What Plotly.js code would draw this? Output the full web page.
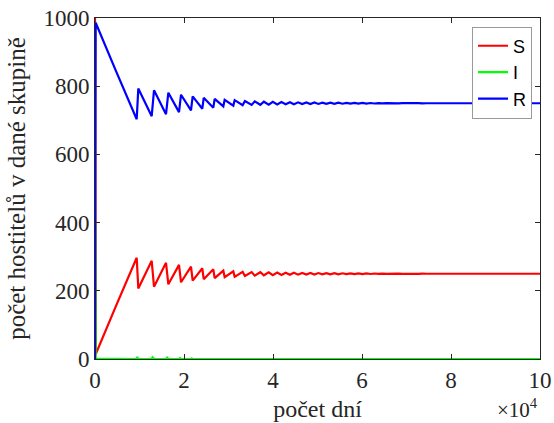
<!DOCTYPE html>
<html>
<head>
<meta charset="utf-8">
<script src="https://cdn.plot.ly/plotly-3.0.1.min.js"></script>
<style>html,body{margin:0;padding:0;background:#fff;}#chart{width:554px;height:423px;}</style>
</head>
<body>
<div id="chart"></div>
<script>
// time (days) for S and R
const t = [0,40,150,4700,9370,9730,12740,13260,15960,16480,18880,19330,21570,21950,24120,24430,26590,26890,28840,29140,31080,31390,
  33180,33700,35200,35900,37150,37950,39050,39950,40950,41900,42850,43800,44700,45650,46550,47500,48400,49300,50200,51100,52000,52900,
  53800,54700,55600,56500,57400,58300,59200,60100,61000,61900,62800,63700,64600,65500,66400,67300,68200,69100,70000,70900,71800,72700,
  73600,74500,100000];
const S = [1000,380,14,155,297,207,288,212,282,219,276,225,271,230,266,234,263,237,259,240,257,241,
  255.5,243.5,255,244.5,254.5,245.5,254,246,253.5,246.5,253,247,252.8,247.3,252.5,247.6,252.2,247.9,252,248.1,251.8,248.3,
  251.6,248.5,251.4,248.7,251.2,248.9,251,249.1,250.8,249.3,250.7,249.4,250.6,249.5,250.5,249.6,250.4,249.7,250.3,249.8,250.2,249.9,
  250.1,250,250];
const R = [0,220,986,845,703,793,712,788,718,781,724,775,729,770,734,766,737,763,741,760,743,759,
  744.5,756.5,745,755.5,745.5,754.5,746,754,746.5,753.5,747,753,747.2,752.7,747.5,752.4,747.8,752.1,748,751.9,748.2,751.7,
  748.4,751.5,748.6,751.3,748.8,751.1,749,750.9,749.2,750.7,749.3,750.6,749.4,750.5,749.5,750.4,749.6,750.3,749.7,750.2,
  749.8,750.1,749.9,750,750];
// infected
const tI = [0,40,150,9300,9500,9750,12700,12950,13300,15900,16200,16500,18850,19100,19350,21550,21750,21950,24100,24280,24450,100000];
const I  = [0,400,1,0,6,0,0,5,0,0,4,0,0,3,0,0,2,0,0,1.5,0,0];

const xTickVals = [0,20000,40000,60000,80000,100000];
const xTickText = ["0","2","4","6","8","10"];
const yTickVals = [0,200,400,600,800,1000];

const serif = "Liberation Serif, DejaVu Serif, serif";
const axisCol = "#262626";

const traces = [
  {x:t, y:S, name:"S", mode:"lines", line:{color:"#ff0000", width:2.2}},
  {x:tI, y:I, name:"I", mode:"lines", line:{color:"#00ff00", width:2.2}},
  {x:t, y:R, name:"R", mode:"lines", line:{color:"#0000ff", width:2.2}}
];

const layout = {
  width:554, height:423,
  margin:{l:95, r:14, t:18, b:64},
  paper_bgcolor:"#fff", plot_bgcolor:"#fff",
  showlegend:true,
  legend:{x:0.982, y:0.975, xanchor:"right", yanchor:"top",
    bgcolor:"#fff", bordercolor:"#9a9a9a", borderwidth:1,
    font:{family:"Liberation Sans, Arial, sans-serif", size:18, color:"#000"},
    tracegroupgap:0, itemwidth:30},
  xaxis:{range:[0,100000], tickvals:xTickVals, ticktext:xTickText,
    showgrid:false, zeroline:false, showline:true, mirror:"ticks",
    linecolor:axisCol, linewidth:1, ticks:"inside", ticklen:5, tickcolor:axisCol,
    tickfont:{family:serif, size:23, color:axisCol},
    title:{text:"počet dní", font:{family:serif, size:24, color:axisCol}, standoff:8}},
  yaxis:{range:[0,1000], tickvals:yTickVals,
    showgrid:false, zeroline:false, showline:true, mirror:"ticks",
    linecolor:axisCol, linewidth:1, ticks:"inside", ticklen:5, tickcolor:axisCol,
    tickfont:{family:serif, size:23, color:axisCol},
    title:{text:"počet hostitelů v dané skupině", font:{family:serif, size:25, color:axisCol}, standoff:10}},
  annotations:[{xref:"paper", yref:"paper", x:1.0, y:-0.1, xanchor:"right", yanchor:"top",
    text:"×10<sup>4</sup>", showarrow:false, font:{family:serif, size:21, color:axisCol}}]
};

Plotly.newPlot("chart", traces, layout, {displayModeBar:false, staticPlot:true});
</script>
</body>
</html>
